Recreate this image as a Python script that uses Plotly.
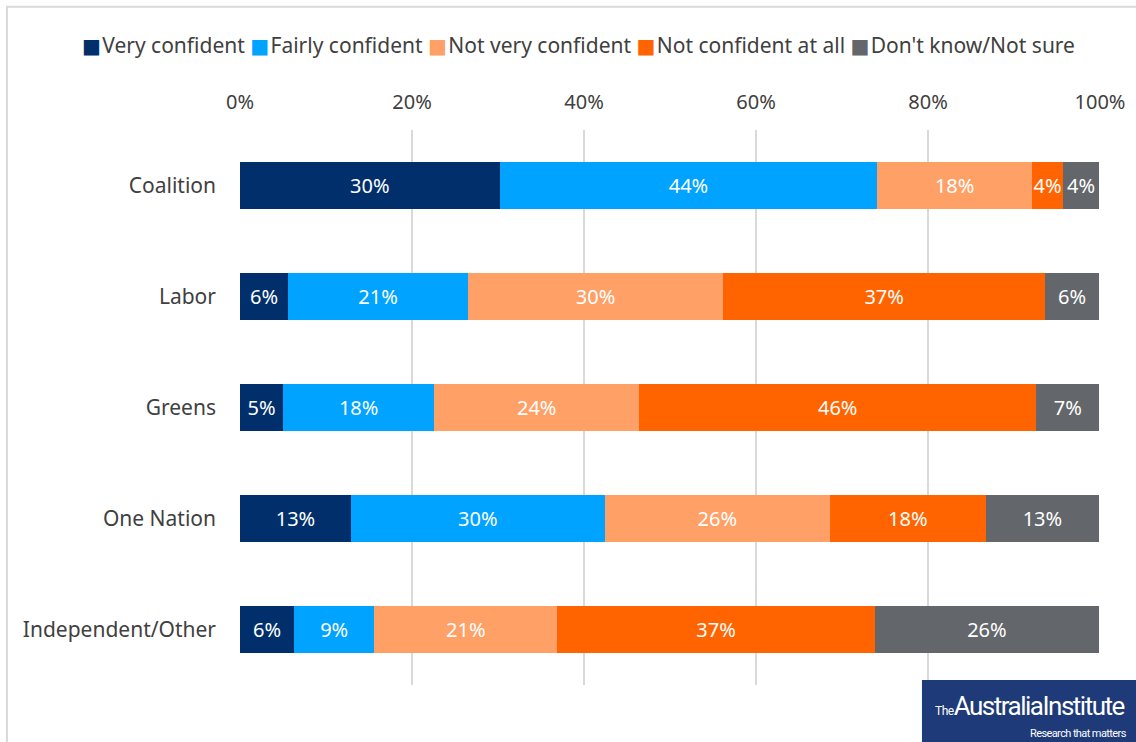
import plotly.graph_objects as go

parties = ["Coalition", "Labor", "Greens", "One Nation", "Independent/Other"]

series_names = ["Very confident", "Fairly confident", "Not very confident",
                "Not confident at all", "Don't know/Not sure"]

very_confident = [30.2, 5.6, 5.0, 12.9, 6.3]
fairly_confident = [43.9, 20.9, 17.6, 29.5, 9.3]
not_very_confident = [18.0, 29.7, 23.8, 26.2, 21.3]
not_confident_at_all = [3.6, 37.4, 46.2, 18.1, 36.9]
dont_know = [4.2, 6.3, 7.3, 13.2, 26.1]

colors = ["#002F6C", "#00A3FF", "#FFA066", "#FF6400", "#63666A"]

FONT = "Noto Sans"
TXT = "#404040"

fig = go.Figure()
for name, vals, col in zip(series_names,
                           [very_confident, fairly_confident, not_very_confident,
                            not_confident_at_all, dont_know], colors):
    fig.add_trace(go.Bar(
        y=parties, x=vals, name=name, orientation="h",
        marker=dict(color=col, line=dict(width=0)),
        texttemplate="%{x:.0f}%", textposition="inside", insidetextanchor="middle",
        textangle=0, constraintext="none",
        textfont=dict(color="white", size=20, family=FONT),
        cliponaxis=False, showlegend=False,
    ))

# legend drawn as one line of text: coloured square + name
legend_text = "&nbsp;".join(
    f"<span style='color:{c};font-family:DejaVu Sans;font-size:20px'>■</span>"
    f"<span style='font-size:5px'>&nbsp;</span>{n}"
    for n, c in zip(series_names, colors)
)

fig.update_layout(
    barmode="stack",
    bargap=0.585,
    width=1136, height=742,
    margin=dict(l=240, r=36, t=130, b=57, autoexpand=False),
    paper_bgcolor="white", plot_bgcolor="white",
    font=dict(family=FONT, size=21, color=TXT),
    xaxis=dict(range=[0, 100], side="top", ticksuffix="%", dtick=20,
               showgrid=True, gridcolor="#D9D9D9", gridwidth=2,
               zeroline=False, showline=False, ticks="", ticklabelstandoff=16,
               tickfont=dict(size=20, color=TXT), fixedrange=True),
    yaxis=dict(autorange="reversed", showgrid=False, ticks="", showline=False,
               ticklabelstandoff=23, tickfont=dict(size=21, color=TXT),
               fixedrange=True),
    uniformtext=dict(mode="show", minsize=10),
    shapes=[
        dict(type="rect", xref="paper", yref="paper", x0=-0.271, x1=1.2,
             y0=-0.3, y1=1.222, line=dict(color="#D9D9D9", width=2),
             fillcolor="rgba(0,0,0,0)", layer="below"),
        dict(type="rect", xref="paper", yref="paper", x0=0.793, x1=1.1,
             y0=-0.11, y1=0.009, line=dict(width=0), fillcolor="#1E3A78",
             layer="above"),
    ],
    annotations=[
        dict(xref="paper", yref="paper", x=0.3936, y=1.153, xanchor="center",
             yanchor="middle", showarrow=False, text=legend_text,
             font=dict(family=FONT, size=21, color=TXT)),
        dict(xref="paper", yref="paper", x=0.806, y=-0.037, xanchor="left",
             yanchor="middle", showarrow=False,
             text="<span style='font-size:12px;letter-spacing:-0.5px'>The</span>"
                  "<span style='letter-spacing:-1.5px'>AustraliaInstitute</span>",
             font=dict(family="Roboto", size=26, color="white")),
        dict(xref="paper", yref="paper", x=1.034, y=-0.087, xanchor="right",
             yanchor="middle", showarrow=False,
             text="<span style='letter-spacing:-0.6px'>Research that matters</span>",
             font=dict(family="Roboto", size=11, color="white")),
    ],
)

fig.write_html("out.html", config={"displayModeBar": False},
               post_script="document.body.style.margin='0';")
